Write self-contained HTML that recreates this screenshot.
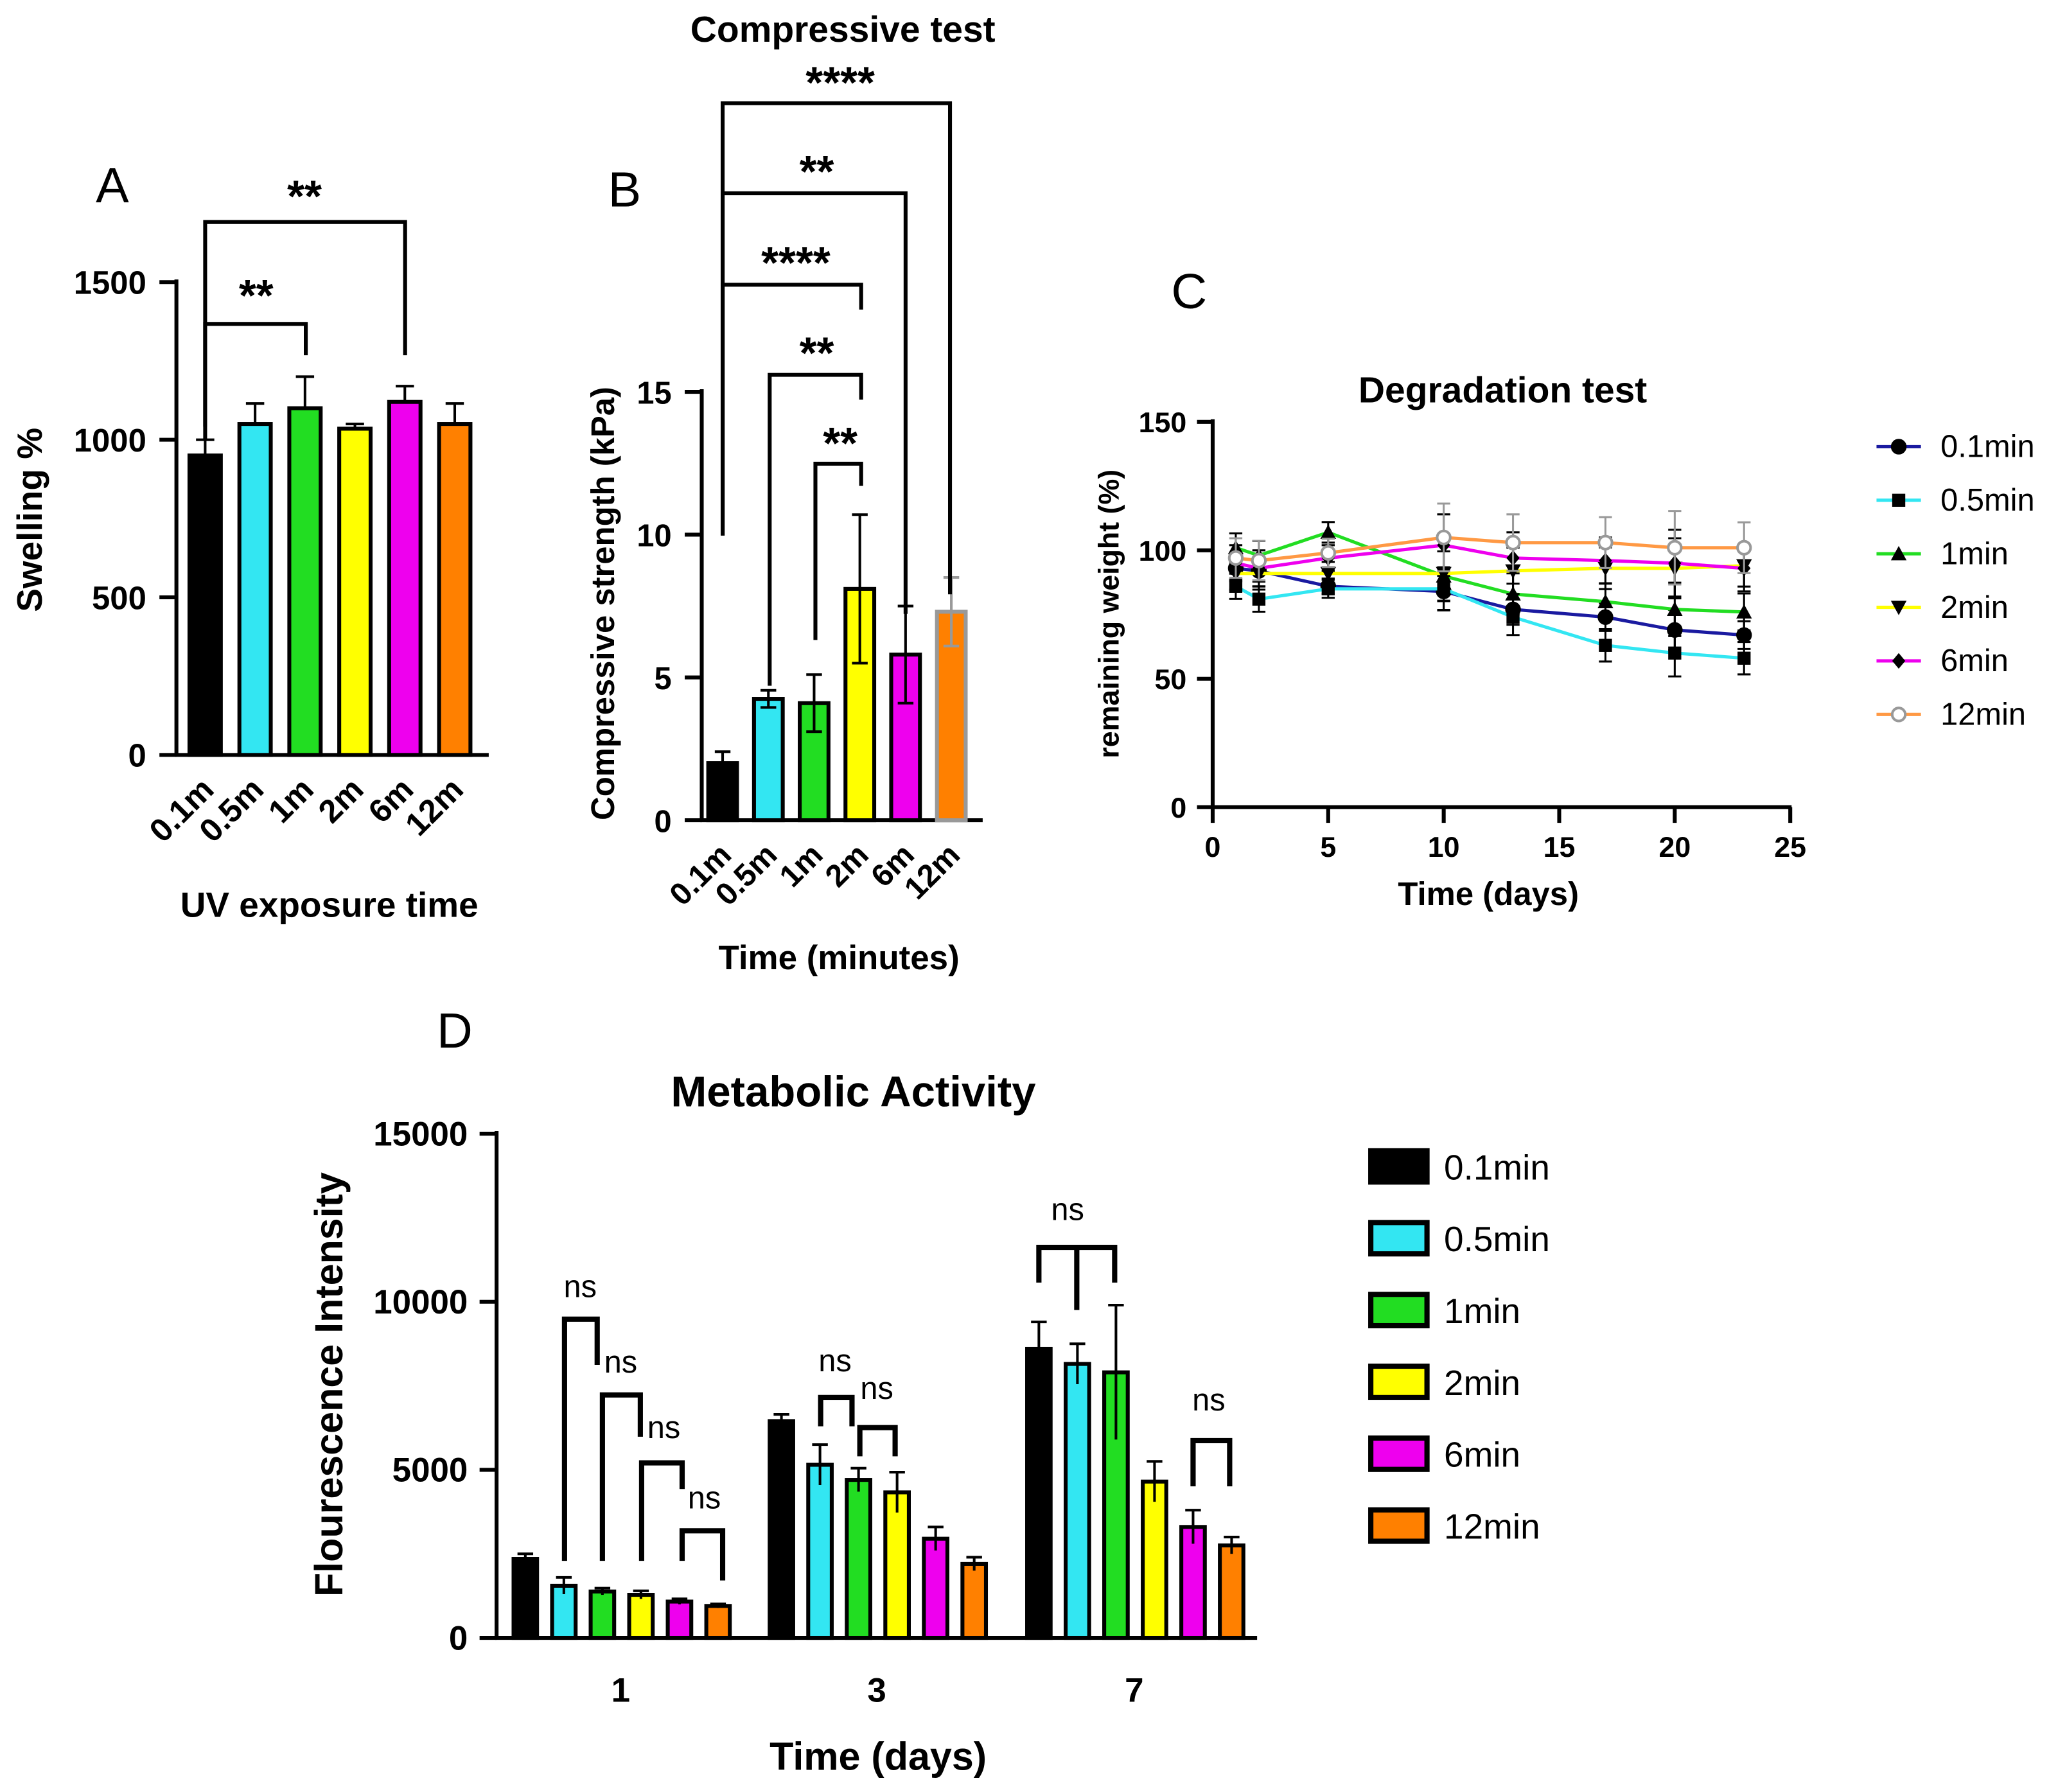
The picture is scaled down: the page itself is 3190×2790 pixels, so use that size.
<!DOCTYPE html>
<html><head><meta charset="utf-8"><style>
html,body{margin:0;padding:0;background:#fff}
svg{display:block}
text{font-family:"Liberation Sans",Arial,sans-serif}
</style></head><body>
<svg id="s" width="3190" height="2790" viewBox="0 0 1568 1372" preserveAspectRatio="none" xmlns="http://www.w3.org/2000/svg"></svg>
<script>
// ---------- data ----------
const colors=["#000000","#33e6f2","#22dd22","#ffff00","#ee00ee","#ff8000"];
const seriesNames=["0.1min","0.5min","1min","2min","6min","12min"];
const aCats=["0.1m","0.5m","1m","2m","6m","12m"];
const aVals=[950,1050,1100,1035,1120,1050];
const aErr=[50,65,100,15,50,65];
const aTicks=[0,500,1000,1500];
const bCats=["0.1m","0.5m","1m","2m","6m","12m"];
const bVals=[2,4.25,4.1,8.1,5.8,7.3];
const bErr=[0.4,0.3,1.0,2.6,1.7,1.2];
const bTicks=[0,5,10,15];
const cDays=[1,2,5,10,13,17,20,23];
const c01=[93,92,86,84,77,74,69,67];
const c05=[86,81,85,85,74,63,60,58];
const c1=[101,98,107,90,83,80,77,76];
const c2=[91,91,91,91,92,93,93,94];
const c6=[95,93,97,102,97,96,95,93];
const c12=[97,96,99,105,103,103,101,101];
const cErr=[7,7,5,12,10,9,13,9];
const cYTicks=[0,50,100,150];
const cXTicks=[0,5,10,15,20,25];
const dGroups=["1","3","7"];
const dDay1=[2350,1550,1380,1280,1080,950];
const dDay3=[6450,5150,4700,4330,2950,2200];
const dDay7=[8600,8150,7900,4650,3300,2750];
const dErr1=[150,250,100,120,80,60];
const dErr3=[200,600,350,600,350,200];
const dErr7=[800,600,2000,600,500,250];
const dTicks=[0,5000,10000,15000];

const S=document.getElementById('s');
const NS="http://www.w3.org/2000/svg";
function el(t,a,name,txt){const e=document.createElementNS(NS,t);for(const k in a)e.setAttribute(k,a[k]);


if(txt!==undefined)e.textContent=txt;S.appendChild(e);return e;}
function line(x1,y1,x2,y2,n,w,c){return el('line',{x1,y1,x2,y2,stroke:c||'#000','stroke-width':w||3},n);}
function txt(x,y,s,n,size,opt){opt=opt||{};return el('text',Object.assign({x,y,'font-size':size,'font-weight':opt.w||'bold','text-anchor':opt.a||'middle',fill:'#000'},opt.tr?{transform:opt.tr}:{}),n,s);}
function path(d,n,w){return el('path',{d,fill:'none',stroke:'#000','stroke-width':w||3},n);}

// ---------- Panel A ----------
{const y=v=>578-v*(362/1500);const xs=i=>157+i*38.2;
txt(86,155,"A","panel-a-label",38,{w:'normal'});
line(135,214,135,579,"a-y-axis");line(134,578,374,578,"a-x-axis");
aTicks.forEach(t=>{line(122,y(t),135,y(t),"a-y-tick");txt(112,y(t)+9,t,"a-y-tick-label",25,{a:'end'});});
aVals.forEach((v,i)=>{const x=xs(i);
el('rect',{x:x-12,y:y(v),width:24,height:578-y(v),fill:colors[i],stroke:'#000','stroke-width':3},"a-bar-"+aCats[i]);
line(x,y(v),x,y(v+aErr[i]),"a-error-bar",2);line(x-7,y(v+aErr[i]),x+7,y(v+aErr[i]),"a-error-cap",2);
txt(x+8,y(0)+28,aCats[i],"a-x-tick-label",25,{a:'end',tr:`rotate(-45 ${x+8} ${y(0)+28})`});});
txt(252,702,"UV exposure time","a-x-axis-title",27);
txt(32,398,"Swelling %","a-y-axis-title",27,{tr:'rotate(-90 32 398)'});
path(`M157,${y(1000)} V170 H310 V272`,"a-sig-bracket-6m");txt(233,162,"**","a-sig-label",34);
path(`M157,${y(1000)-10} V248 H234 V272`,"a-sig-bracket-1m");txt(196,238,"**","a-sig-label",34);}

// ---------- Panel B ----------
{const y=v=>628-v*(328/15);const xs=i=>553+i*35;
txt(478,158,"B","panel-b-label",38,{w:'normal'});
txt(645,32,"Compressive test","b-title",28);
line(537,298,537,629,"b-y-axis");line(536,628,752,628,"b-x-axis");
bTicks.forEach(t=>{line(524,y(t),537,y(t),"b-y-tick");txt(514,y(t)+9,t,"b-y-tick-label",24,{a:'end'});});
bVals.forEach((v,i)=>{const x=xs(i);const last=i===5;
el('rect',{x:x-11,y:y(v),width:22,height:628-y(v),fill:colors[i],stroke:last?'#999':'#000','stroke-width':3},"b-bar-"+bCats[i]);
const ec=last?'#999':'#000';
line(x,y(v-bErr[i]),x,y(v+bErr[i]),"b-error-bar",2,ec);line(x-6,y(v+bErr[i]),x+6,y(v+bErr[i]),"b-error-cap",2,ec);line(x-6,y(v-bErr[i]),x+6,y(v-bErr[i]),"b-error-cap",2,ec);
txt(x+8,y(0)+28,bCats[i],"b-x-tick-label",24,{a:'end',tr:`rotate(-45 ${x+8} ${y(0)+28})`});});
txt(642,742,"Time (minutes)","b-x-axis-title",26);
txt(470,462,"Compressive strength (kPa)","b-y-axis-title",25,{tr:'rotate(-90 470 462)'});
path("M553,410 V79 H727 V455","b-sig-bracket");txt(643,75,"****","b-sig-label",34);
path("M553,410 V148 H693 V470","b-sig-bracket");txt(625,143,"**","b-sig-label",34);
path("M553,410 V218 H659 V237","b-sig-bracket");txt(609,213,"****","b-sig-label",34);
path("M589,525 V287 H659 V306","b-sig-bracket");txt(625,282,"**","b-sig-label",34);
path("M624,490 V355 H659 V372","b-sig-bracket");txt(643,351,"**","b-sig-label",34);}

// ---------- Panel C ----------
{const y=v=>618-v*(295/150);const x=d=>928+d*(442/25);
txt(910,236,"C","panel-c-label",38,{w:'normal'});
txt(1150,308,"Degradation test","c-title",28);
line(928,321,928,619,"c-y-axis");line(927,618,1371,618,"c-x-axis");
cYTicks.forEach(t=>{line(916,y(t),928,y(t),"c-y-tick");txt(908,y(t)+8,t,"c-y-tick-label",22,{a:'end'});});
cXTicks.forEach(t=>{line(x(t),618,x(t),630,"c-x-tick");txt(x(t),656,t,"c-x-tick-label",22);});
txt(1139,693,"Time (days)","c-x-axis-title",25);
txt(856,470,"remaining weight (%)","c-y-axis-title",22,{tr:'rotate(-90 856 470)'});
const ser=[c01,c05,c1,c2,c6,c12];const lc=["#1a1aa0","#33e6f2","#22dd22","#ffff00","#ee00ee","#ff9944"];
const mk=["circle","square","tri","itri","diamond","open"];
function marker(px,py,m,n){const c=m==='open'?'#999':'#000';
if(m==='circle'||m==='open')el('circle',{cx:px,cy:py,r:5,fill:m==='open'?'#fff':'#000',stroke:c,'stroke-width':2},n);
else if(m==='square')el('rect',{x:px-5,y:py-5,width:10,height:10,fill:'#000'},n);
else if(m==='tri')el('polygon',{points:`${px},${py-6} ${px-6},${py+5} ${px+6},${py+5}`,fill:'#000'},n);
else if(m==='itri')el('polygon',{points:`${px},${py+6} ${px-6},${py-5} ${px+6},${py-5}`,fill:'#000'},n);
else el('polygon',{points:`${px},${py-6} ${px+5},${py} ${px},${py+6} ${px-5},${py}`,fill:'#000'},n);}
ser.forEach((s,k)=>{
el('polyline',{points:s.map((v,i)=>x(cDays[i])+','+y(v)).join(' '),fill:'none',stroke:lc[k],'stroke-width':2.5},"c-line-"+seriesNames[k]);
s.forEach((v,i)=>{const e=cErr[i]*(0.6+0.1*k);const px=x(cDays[i]);const ec=k===5?'#999':'#000';
line(px,y(v-e),px,y(v+e),"c-error-bar",1.5,ec);line(px-5,y(v+e),px+5,y(v+e),"c-error-cap",1.5,ec);line(px-5,y(v-e),px+5,y(v-e),"c-error-cap",1.5,ec);
marker(px,y(v),mk[k],"c-point-"+seriesNames[k]);});
const ly=342+k*41;
line(1436,ly,1470,ly,"c-legend-line",2.5,lc[k]);marker(1453,ly,mk[k],"c-legend-marker");
txt(1485,ly+8,seriesNames[k],"c-legend-label",24,{w:'normal',a:'start'});});}

// ---------- Panel D ----------
{const y=v=>1254-v*(386/15000);
txt(348,802,"D","panel-d-label",38,{w:'normal'});
txt(653,847,"Metabolic Activity","d-title",33);
line(380,866,380,1255,"d-y-axis");line(379,1254,962,1254,"d-x-axis");
dTicks.forEach(t=>{line(367,y(t),380,y(t),"d-y-tick");txt(358,y(t)+9,t,"d-y-tick-label",26,{a:'end'});});
const days=[dDay1,dDay3,dDay7],errs=[dErr1,dErr3,dErr7],starts=[402,598,795];
days.forEach((arr,g)=>{const gc=starts[g]+73;
txt(gc,1303,dGroups[g],"d-x-tick-label",26);
arr.forEach((v,i)=>{const xc=starts[g]+i*29.5;
el('rect',{x:xc-9,y:y(v),width:18,height:1254-y(v),fill:colors[i],stroke:'#000','stroke-width':3},"d-bar-day"+dGroups[g]+"-"+seriesNames[i]);
const e=errs[g][i];line(xc,y(v-e),xc,y(v+e),"d-error-bar",2);line(xc-6,y(v+e),xc+6,y(v+e),"d-error-cap",2);});});
txt(672,1355,"Time (days)","d-x-axis-title",30);
txt(262,1060,"Flourescence Intensity","d-y-axis-title",30,{tr:'rotate(-90 262 1060)'});
const B=(d,tx,ty)=>{path(d,"d-sig-bracket",4);txt(tx,ty,"ns","d-sig-label",24,{w:'normal'});};
B("M432,1195 V1010 H457 V1045",444,993);
B("M461,1195 V1068 H490 V1100",475,1051);
B("M491,1195 V1120 H522 V1140",508,1101);
B("M522,1195 V1172 H553 V1210",539,1155);
B("M628,1092 V1070 H652 V1092",639,1050);
B("M658,1115 V1093 H685 V1115",671,1071);
B("M795,982 V955 H853 V982",817,934);path("M824,955 V1003","d-sig-bracket",4);
B("M913,1138 V1103 H941 V1138",925,1080);
seriesNames.forEach((n,i)=>{const ly=893+i*55;
el('rect',{x:1049,y:ly-12,width:43,height:24,fill:colors[i],stroke:'#000','stroke-width':4},"d-legend-swatch");
txt(1105,ly+10,n,"d-legend-label",27,{w:'normal',a:'start'});});}
</script>
</body></html>
